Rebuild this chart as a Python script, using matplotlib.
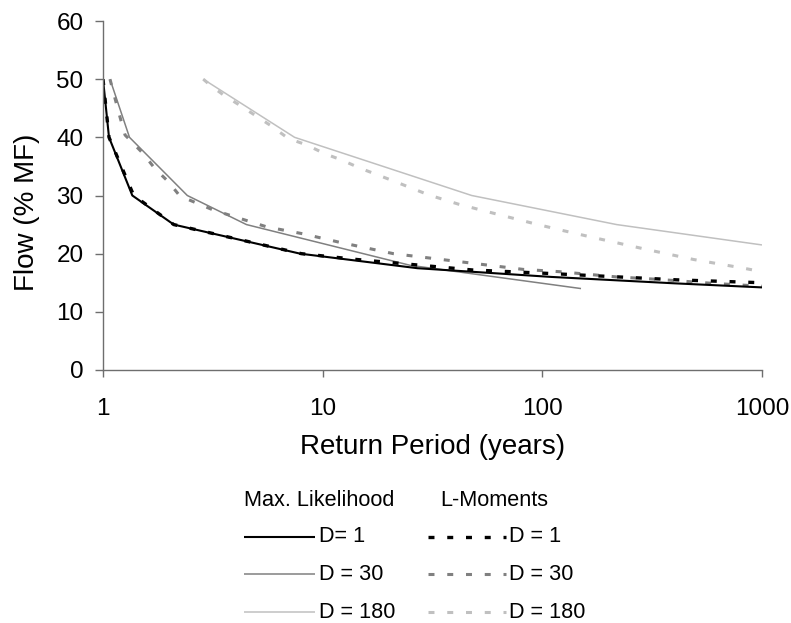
import matplotlib
matplotlib.use("Agg")
import matplotlib.pyplot as plt
from matplotlib.lines import Line2D

plt.rcParams["font.family"] = ["Liberation Sans", "DejaVu Sans"]
plt.rcParams["lines.scale_dashes"] = False

# Return period (years) at which each flow level (% of mean flow) is reached
ml_d1_T = [1.0, 1.065, 1.36, 2.1, 7.9, 27, 110, 400, 1000]
ml_d1_Q = [50, 40, 30, 25, 20, 17.5, 16.0, 14.9, 14.2]

ml_d30_T = [1.076, 1.32, 2.42, 4.5, 25, 150]
ml_d30_Q = [50, 40, 30, 25, 18, 14]

ml_d180_T = [2.86, 7.45, 47.7, 218, 1000]
ml_d180_Q = [50, 40, 30, 25, 21.5]

lm_d1_T = [1.0, 1.065, 1.38, 2.1, 8.0, 14.3, 48, 107, 410, 1000]
lm_d1_Q = [50, 40, 30, 25, 20, 19.0, 17.2, 16.6, 15.5, 15.0]

lm_d30_T = [1.076, 1.134, 1.195, 1.26, 1.525, 1.725, 1.98, 2.24, 2.67, 3.18,
            5.57, 8.17, 11.8, 21, 47, 81.6, 120, 218, 331, 595, 1000]
lm_d30_Q = [50, 46.7, 43.5, 40.4, 37.2, 34.6, 32.4, 29.9, 28.7, 27.5,
            24.6, 23.4, 22.0, 20.0, 18.4, 17.3, 16.9, 16.0, 15.6, 14.9, 14.4]

lm_d180_T = [2.86, 3.07, 3.53, 4.2, 5.76, 6.98, 8.45, 10.2, 12.2, 14.8, 21,
             30.4, 41.6, 62.1, 91, 120, 165, 300, 488, 825, 1000]
lm_d180_Q = [50, 49.0, 47.3, 45.5, 42.1, 39.8, 38.7, 37.2, 36.1, 34.7, 32.5,
             30.1, 28.5, 26.8, 25.2, 24.1, 22.9, 20.7, 19.0, 17.5, 16.9]

ml_labels = ["D= 1", "D = 30", "D = 180"]
lm_labels = ["D = 1", "D = 30", "D = 180"]
x_ticks = [1, 10, 100, 1000]
x_tick_labels = ["1", "10", "100", "1000"]
y_ticks = [0, 10, 20, 30, 40, 50, 60]

colors = ["#000000", "#808080", "#c0c0c0"]
DASH = (4.3, 9.2)

ml_styles = [dict(color=colors[0], lw=1.5),
             dict(color=colors[1], lw=1.1),
             dict(color=colors[2], lw=1.1)]
lm_styles = [dict(color=colors[0], lw=2.4, dashes=DASH),
             dict(color=colors[1], lw=2.2, dashes=DASH),
             dict(color=colors[2], lw=2.2, dashes=DASH)]

W, H = 791, 623
fig = plt.figure(figsize=(W / 100, H / 100), dpi=100)
ax = fig.add_axes([103 / W, 1 - 370 / H, 659 / W, 349 / H])

ml_data = [(ml_d1_T, ml_d1_Q), (ml_d30_T, ml_d30_Q), (ml_d180_T, ml_d180_Q)]
lm_data = [(lm_d1_T, lm_d1_Q), (lm_d30_T, lm_d30_Q), (lm_d180_T, lm_d180_Q)]

# light series first so darker curves sit on top
for i in (2, 1, 0):
    ax.plot(*ml_data[i], solid_capstyle="butt", **ml_styles[i])
    ax.plot(*lm_data[i], dash_capstyle="butt", **lm_styles[i])

ax.set_xscale("log")
ax.set_xlim(1, 1000)
ax.set_ylim(0, 60)
ax.set_xticks(x_ticks)
ax.set_xticklabels(x_tick_labels)
ax.xaxis.set_minor_locator(matplotlib.ticker.NullLocator())
ax.set_yticks(y_ticks)

axis_color = "#6e6e6e"
for side in ("top", "right"):
    ax.spines[side].set_visible(False)
for side in ("left", "bottom"):
    ax.spines[side].set_color(axis_color)
    ax.spines[side].set_linewidth(1.0)

ax.tick_params(axis="y", direction="out", length=6, width=1, color=axis_color,
               labelsize=17.5, pad=8)
ax.tick_params(axis="x", direction="out", length=5, width=1, color=axis_color,
               labelsize=17.5, pad=15)

ax.set_xlabel("Return Period (years)", fontsize=20)
ax.xaxis.set_label_coords(0.5, -0.183)
ax.set_ylabel("Flow (% MF)", fontsize=20)
ax.yaxis.set_label_coords(-0.095, 0.453)


# legend block below the chart: two columns with headers
def fx(px):
    return px / W


def fy(py):
    return 1 - py / H


leg_fs = 15.6
fig.text(fx(244), fy(500), "Max. Likelihood", fontsize=leg_fs, va="center", ha="left")
fig.text(fx(440), fy(500), "L-Moments", fontsize=leg_fs, va="center", ha="left")
row_y = [537, 574, 612]
for i, y in enumerate(row_y):
    fig.add_artist(Line2D([fx(244), fx(315)], [fy(y), fy(y)],
                          solid_capstyle="butt", **ml_styles[i]))
    fig.text(fx(319), fy(y), ml_labels[i], fontsize=leg_fs, va="center", ha="left")
    fig.add_artist(Line2D([fx(428), fx(506)], [fy(y), fy(y)],
                          dash_capstyle="butt", **lm_styles[i]))
    fig.text(fx(509), fy(y), lm_labels[i], fontsize=leg_fs, va="center", ha="left")

fig.savefig("out.png", dpi=100)
